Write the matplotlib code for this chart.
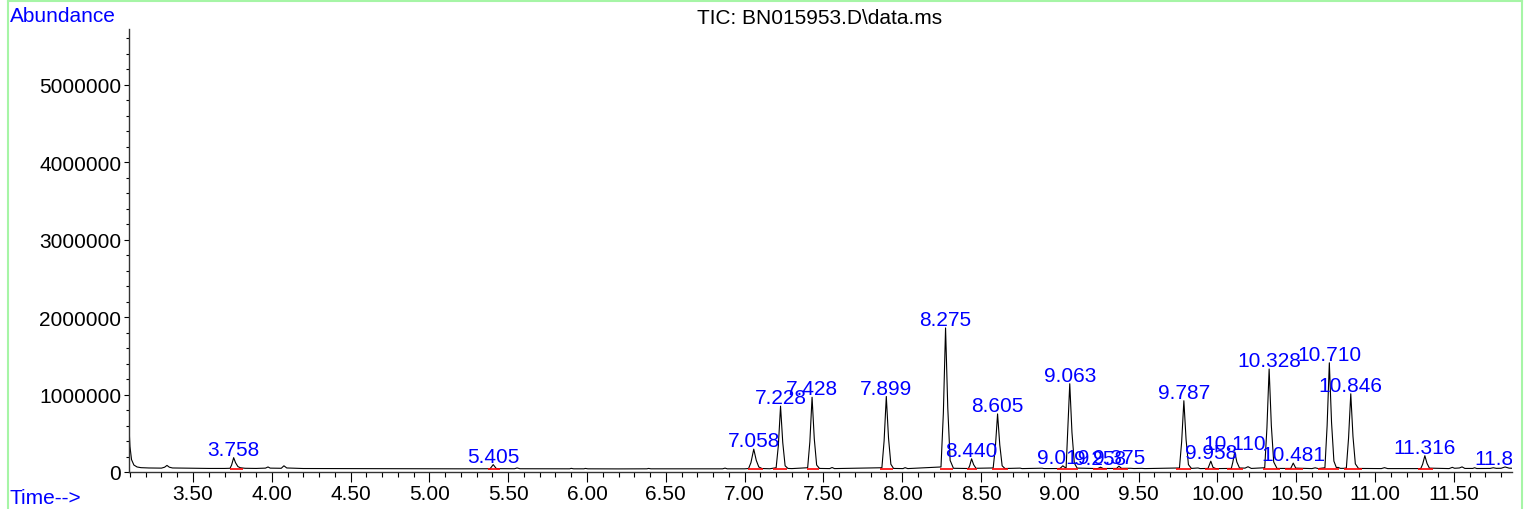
import matplotlib
matplotlib.use("Agg")
import matplotlib.pyplot as plt
from matplotlib.ticker import MultipleLocator, FormatStrFormatter
from matplotlib.lines import Line2D

plt.rcParams["font.family"] = ["Liberation Sans", "DejaVu Sans"]

# TIC trace (time in min, abundance)
trace_time = [
    3.094, 3.100, 3.110, 3.125, 3.145, 3.170, 3.220, 3.300, 3.320, 3.335, 3.350, 3.370,
    3.500, 3.600, 3.700, 3.735, 3.745, 3.758, 3.770, 3.785, 3.800, 3.830, 3.900, 3.960,
    3.976, 3.990, 4.060, 4.077, 4.095, 4.200, 4.400, 4.600, 4.800, 5.000, 5.200, 5.385,
    5.405, 5.425, 5.540, 5.556, 5.575, 5.890, 5.900, 5.915, 5.980, 5.990, 6.005, 6.200,
    6.380, 6.390, 6.405, 6.860, 6.876, 6.890, 7.000,
    7.025, 7.040, 7.058, 7.074, 7.090, 7.110, 7.160,
    7.200, 7.214, 7.228, 7.242, 7.257, 7.275, 7.300,
    7.400, 7.414, 7.428, 7.442, 7.457, 7.475,
    7.540, 7.555, 7.570,
    7.871, 7.885, 7.899, 7.913, 7.928, 7.945,
    8.005, 8.018, 8.035,
    8.246, 8.261, 8.275, 8.289, 8.304, 8.325,
    8.420, 8.428, 8.440, 8.453, 8.468,
    8.577, 8.591, 8.605, 8.619, 8.634, 8.652,
    8.748, 8.760, 8.887, 8.900,
    9.000, 9.010, 9.019, 9.030, 9.040, 9.049, 9.063, 9.077, 9.092, 9.110,
    9.240, 9.258, 9.275, 9.360, 9.375, 9.392, 9.450, 9.470, 9.520, 9.540,
    9.759, 9.773, 9.787, 9.801, 9.816, 9.835,
    9.877, 9.890, 9.940, 9.958, 9.972, 9.990,
    10.088, 10.097, 10.110, 10.123, 10.140,
    10.175, 10.194, 10.215,
    10.300, 10.314, 10.328, 10.342, 10.357, 10.378,
    10.465, 10.481, 10.497, 10.600, 10.620, 10.640,
    10.682, 10.696, 10.710, 10.724, 10.739, 10.755, 10.765, 10.780, 10.800,
    10.818, 10.832, 10.846, 10.860, 10.875, 10.895,
    11.040, 11.060, 11.080,
    11.290, 11.302, 11.316, 11.330, 11.345,
    11.470, 11.490, 11.505, 11.535, 11.552, 11.570, 11.620, 11.632, 11.645,
    11.730, 11.750, 11.770, 11.800, 11.825, 11.850, 11.869,
]
trace_abund = [
    580000, 330000, 160000, 90000, 65000, 56000, 52000, 50000, 62000, 85000, 62000, 52000,
    48000, 46000, 46000, 48000, 90000, 185000, 120000, 70000, 55000, 48000, 46000, 50000,
    65000, 50000, 48000, 80000, 52000, 45000, 44000, 43000, 42000, 42000, 41000, 42000,
    95000, 43000, 42000, 52000, 42000, 41000, 47000, 41000, 41000, 46000, 41000, 40000,
    41000, 46000, 41000, 41000, 50000, 41000, 41000,
    45000, 120000, 295000, 150000, 65000, 45000, 42000,
    55000, 340000, 850000, 380000, 80000, 46000, 44000,
    55000, 390000, 965000, 430000, 90000, 46000,
    44000, 58000, 44000,
    55000, 400000, 975000, 440000, 100000, 46000,
    44000, 56000, 44000,
    65000, 760000, 1860000, 830000, 150000, 48000,
    45000, 80000, 170000, 95000, 48000,
    52000, 320000, 750000, 350000, 80000, 45000,
    50000, 44000, 49000, 44000,
    45000, 62000, 80000, 62000, 55000, 470000, 1140000, 510000, 115000, 50000,
    44000, 62000, 45000, 46000, 75000, 47000, 48000, 45000, 47000, 44000,
    52000, 390000, 920000, 420000, 95000, 46000,
    52000, 44000, 46000, 140000, 60000, 44000,
    46000, 120000, 260000, 130000, 52000,
    50000, 68000, 46000,
    55000, 570000, 1330000, 600000, 130000, 46000,
    46000, 115000, 50000, 44000, 54000, 44000,
    55000, 600000, 1410000, 640000, 140000, 55000, 60000, 47000, 47000,
    52000, 440000, 1010000, 460000, 105000, 46000,
    44000, 56000, 44000,
    44000, 100000, 210000, 110000, 50000,
    44000, 60000, 48000, 52000, 66000, 46000, 46000, 55000, 45000,
    46000, 55000, 47000, 48000, 65000, 50000, 48000,
]

# integrated peaks: retention time label, apex abundance, integration window
peak_rt = ["3.758", "5.405", "7.058", "7.228", "7.428", "7.899", "8.275", "8.440",
           "8.605", "9.019", "9.063", "9.258", "9.375", "9.787", "9.958", "10.110",
           "10.328", "10.481", "10.710", "10.846", "11.316", "11.825"]
peak_height = [185000, 95000, 295000, 850000, 965000, 975000, 1860000, 170000,
               750000, 80000, 1140000, 62000, 75000, 920000, 140000, 260000,
               1330000, 115000, 1410000, 1010000, 210000, 65000]
int_start = [3.735, 5.37, 7.02, 7.18, 7.396, 7.86, 8.24, 8.41, 8.57, 8.98, 9.02,
             9.21, 9.34, 9.74, 9.92, 10.06, 10.29, 10.43, 10.64, 10.80, 11.27]
int_end = [3.817, 5.45, 7.116, 7.27, 7.472, 7.94, 8.32, 8.475, 8.67, 9.02, 9.115,
           9.30, 9.43, 9.83, 10.01, 10.16, 10.40, 10.54, 10.77, 10.92, 11.37]
int_level = 38000

W, H = 1528, 510
fig = plt.figure(figsize=(W / 100, H / 100), dpi=100)
ax = fig.add_axes([129 / W, 1 - 473 / H, (1512 - 129) / W, (473 - 30) / H])

ax.plot(trace_time, trace_abund, color="black", lw=0.8, zorder=2)
for s, e in zip(int_start, int_end):
    ax.plot([s, e], [int_level, int_level], color="#ff0000", lw=1.2, zorder=3,
            solid_capstyle="butt")

for rt, h in zip(peak_rt, peak_height):
    ax.annotate(rt, xy=(float(rt), h), xytext=(0, 2), textcoords="offset points",
                ha="center", va="baseline", color="#0000ff", fontsize=15,
                annotation_clip=False, clip_on=True)

ax.set_xlim(3.094, 11.869)
ax.set_ylim(0, 5.72e6)

ax.xaxis.set_major_locator(MultipleLocator(0.5))
ax.xaxis.set_minor_locator(MultipleLocator(0.1))
ax.xaxis.set_major_formatter(FormatStrFormatter("%.2f"))
ax.yaxis.set_major_locator(MultipleLocator(1000000))
ax.yaxis.set_minor_locator(MultipleLocator(200000))
ax.yaxis.set_major_formatter(FormatStrFormatter("%d"))

ax.tick_params(axis="x", which="major", length=7, width=0.8, pad=2, labelsize=15,
               direction="out", colors="black")
ax.tick_params(axis="x", which="minor", length=3.6, width=0.8, direction="out")
ax.tick_params(axis="y", which="major", length=3.5, width=0.8, pad=2, labelsize=15,
               direction="out")
ax.tick_params(axis="y", which="minor", length=2, width=0.8, direction="out")

for side in ["top", "right"]:
    ax.spines[side].set_visible(False)
for side in ["left", "bottom"]:
    ax.spines[side].set_color("#333333")
    ax.spines[side].set_linewidth(1.0)

# window texts
fig.text(10 / W, 1 - 16 / H, "Abundance", color="#0000ff", fontsize=15,
         ha="left", va="center")
fig.text(9 / W, 1 - 499 / H, "Time-->", color="#0000ff", fontsize=15,
         ha="left", va="center")
fig.text(820 / W, 1 - 18 / H, "TIC: BN015953.D\\data.ms", color="black", fontsize=15,
         ha="center", va="center")

# light green frame
green = "#a6f5a6"
fig.add_artist(Line2D([8 / W, 8 / W], [0, 1 - 1.5 / H], color=green, lw=1.5,
                      transform=fig.transFigure))
fig.add_artist(Line2D([8 / W, 1521.5 / W], [1 - 1.5 / H, 1 - 1.5 / H], color=green, lw=1.5,
                      transform=fig.transFigure))
fig.add_artist(Line2D([1521.5 / W, 1521.5 / W], [0, 1 - 1.5 / H], color=green, lw=1.5,
                      transform=fig.transFigure))

fig.savefig("out.png", dpi=100)
